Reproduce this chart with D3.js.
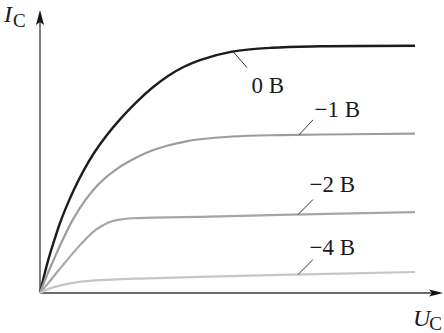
<!DOCTYPE html>
<html>
<head>
<meta charset="utf-8">
<script src="https://cdn.jsdelivr.net/npm/d3@7"></script>
<style>
  html, body { margin: 0; padding: 0; background: #fff; }
  svg { display: block; }
  text { font-family: "Liberation Serif", "Times New Roman", serif; fill: #1a1a1a; }
</style>
</head>
<body>
<svg id="chart" width="444" height="333"></svg>
<script>
// Output characteristics: collector current I_C versus collector voltage U_C
// for several gate/base voltages (values in relative units, 0..100).
const seriesNames = ["0 B", "−1 B", "−2 B", "−4 B"];

const u0 = [0, 1, 2, 3.5, 5, 6.5, 8.5, 11, 13.5, 16.5, 20, 24, 28, 32, 36, 40, 48, 58, 70, 93.75];
const i0 = [0, 6.0, 11.5, 18.5, 25.0, 30.5, 37.0, 44.0, 50.0, 56.0, 62.0, 68.0, 73.2, 77.5, 80.8, 83.2, 86.2, 87.6, 88.1, 88.3];

const u1 = [0, 1.5, 3, 5.5, 8.25, 11.25, 15, 19.5, 24, 28, 32, 36, 40, 48, 60, 77.5, 93.75];
const i1 = [0, 5.5, 10.5, 18.5, 26.3, 33.0, 39.4, 44.6, 48.3, 50.9, 52.7, 54.0, 54.9, 55.9, 56.4, 56.7, 56.9];

const u2 = [0, 2.5, 5, 7.5, 10, 12, 14, 16, 18, 20, 23, 28, 40, 60, 93.75];
const i2 = [0, 4.3, 8.7, 13.0, 17.1, 20.1, 22.6, 24.4, 25.6, 26.2, 26.7, 26.9, 27.2, 27.9, 28.9];

const u4 = [0, 1.5, 3.5, 6, 9, 13, 18, 25, 40, 60, 93.75];
const i4 = [0, 1.1, 2.1, 3.0, 3.8, 4.4, 4.8, 5.15, 5.75, 6.45, 7.5];

const seriesU = [u0, u1, u2, u4];
const seriesI = [i0, i1, i2, i4];

// Drawing styles per curve
const styles = [
  { stroke: "#1c1c1c", width: 2.4 },
  { stroke: "#9c9c9c", width: 2.2 },
  { stroke: "#a6a6a6", width: 2.2 },
  { stroke: "#c6c6c6", width: 2.2 }
];

// Callout layout: where the leader touches the curve (in U), leader offset, label anchor
const callouts = [
  { atU: 48.25, dx: 14, dy: 16, tx: 284, ty: 93 },
  { atU: 64.75, dx: 14, dy: -15, tx: 360, ty: 117 },
  { atU: 64.5,  dx: 15, dy: -15, tx: 355, ty: 192 },
  { atU: 64.5,  dx: 15, dy: -15, tx: 355, ty: 255 }
];

const svg = d3.select("#chart");
const x = d3.scaleLinear().domain([0, 100]).range([40, 440]);
const y = d3.scaleLinear().domain([0, 100]).range([293, 13]);

// Axes with arrowheads
const axisColor = "#3a3a3a";
svg.append("line")
  .attr("x1", x(0)).attr("y1", y(0))
  .attr("x2", x(0)).attr("y2", 22)
  .attr("stroke", axisColor).attr("stroke-width", 1.3);
svg.append("path")
  .attr("d", `M${x(0)},10 L${x(0) - 4},25 L${x(0)},22 L${x(0) + 4},25 Z`)
  .attr("fill", "#111");

svg.append("line")
  .attr("x1", x(0)).attr("y1", y(0))
  .attr("x2", 432).attr("y2", y(0))
  .attr("stroke", axisColor).attr("stroke-width", 1.3);
svg.append("path")
  .attr("d", `M443,${y(0)} L429,${y(0) - 3.5} L432,${y(0)} L429,${y(0) + 3.5} Z`)
  .attr("fill", "#111");

// Curves
const line = d3.line()
  .x(d => x(d[0]))
  .y(d => y(d[1]))
  .curve(d3.curveCatmullRom.alpha(0.5));

seriesU.forEach((us, k) => {
  const pts = us.map((u, j) => [u, seriesI[k][j]]);
  svg.append("path")
    .datum(pts)
    .attr("d", line)
    .attr("fill", "none")
    .attr("stroke", styles[k].stroke)
    .attr("stroke-width", styles[k].width)
    .attr("stroke-linecap", "butt");
});

// Value of a series at a given U by linear interpolation between readings
function valueAt(k, u) {
  const us = seriesU[k], is = seriesI[k];
  for (let j = 1; j < us.length; j++) {
    if (u <= us[j]) {
      const t = (u - us[j - 1]) / (us[j] - us[j - 1]);
      return is[j - 1] + t * (is[j] - is[j - 1]);
    }
  }
  return is[is.length - 1];
}

// Leader lines and labels
callouts.forEach((c, k) => {
  const px = x(c.atU), py = y(valueAt(k, c.atU));
  svg.append("line")
    .attr("x1", px).attr("y1", py)
    .attr("x2", px + c.dx).attr("y2", py + c.dy)
    .attr("stroke", "#222").attr("stroke-width", 0.9);
  svg.append("text")
    .attr("x", c.tx).attr("y", c.ty)
    .attr("text-anchor", "end")
    .attr("font-size", 23)
    .text(seriesNames[k]);
});

// Axis titles
const yTitle = svg.append("text").attr("x", 4).attr("y", 22).attr("font-size", 24);
yTitle.append("tspan").attr("font-style", "italic").text("I");
yTitle.append("tspan").attr("font-size", 19).attr("dy", 5).attr("dx", 1).text("C");

const xTitle = svg.append("text").attr("x", 413).attr("y", 326).attr("font-size", 24);
xTitle.append("tspan").attr("font-style", "italic").text("U");
xTitle.append("tspan").attr("font-size", 19).attr("dy", 4).attr("dx", -1).text("C");
</script>
</body>
</html>
